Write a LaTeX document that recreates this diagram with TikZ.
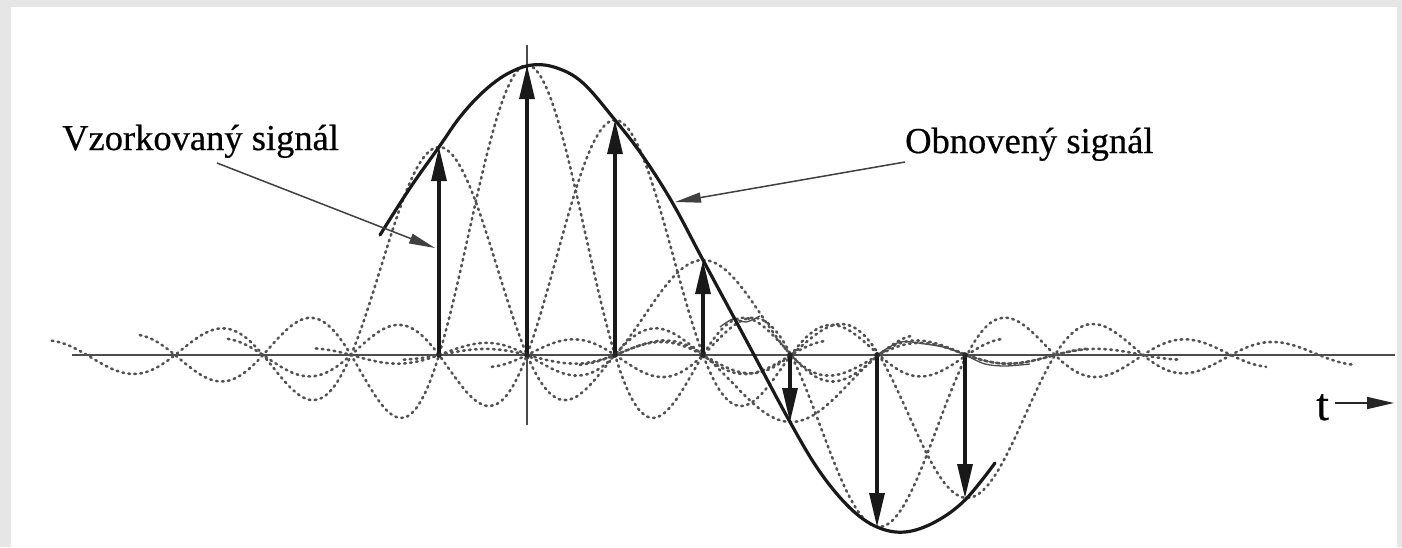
\documentclass[tikz,border=0pt]{standalone}
\usepackage{fontspec}
\setmainfont{Liberation Serif}
\newfontfamily\lblfont{Liberation Serif}[FakeBold=0.5]
\usetikzlibrary{arrows.meta}
\definecolor{framegray}{HTML}{E6E6E6}
\begin{document}
\begin{tikzpicture}[x=1pt,y=-1pt,
  axisline/.style={line width=1.8pt, black!70},
  sincline/.style={line width=2.6pt, black!68, line cap=round, dash pattern=on 1.6pt off 4.4pt},
  recon/.style={line width=3.2pt, black!90, line cap=round},
  samplearrow/.style={line width=3.2pt, black!90, -{Triangle[length=34pt,width=15pt]}},
  pointer/.style={line width=1.5pt, black!75, -{Triangle[length=26pt,width=10pt]}},
  lbl/.style={font=\lblfont\fontsize{36.5}{40}\selectfont, inner sep=0pt},
  tlbl/.style={font=\lblfont\fontsize{46}{50}\selectfont, inner sep=0pt},
  wiggle/.style={line width=1.3pt, black!70}]
\useasboundingbox (0,0) rectangle (1402,547);
\fill[framegray] (0,0) rectangle (1402,547);
\fill[white] (11,7) rectangle (1397,547);

% axes
\coordinate (axL) at (72,355);
\coordinate (axR) at (1395,355);
\coordinate (axT) at (527,45);
\coordinate (axB) at (527,425);
\draw[axisline] (axL) -- (axR);
\draw[axisline, line width=1.4pt] (axT) -- (axB);

% dotted sinc components
\foreach \c/\A in {-1/208, 0/290, 1/235, 2/95, 3/-67, 4/-172, 5/-143}{
  \draw[sincline] plot[domain=-4.4:4.4, samples=88, smooth]
    ({527+88*(\c+\x)}, {355-(\A)*sin(180*\x)/(pi*\x)});
}

% small solid wiggles
\draw[wiggle] plot[smooth] coordinates {(877,355) (900,342) (925,344) (947,348) (967,356) (985,364) (1005,366) (1030,364)};
\draw[wiggle] plot[smooth] coordinates {(720,327) (733,319) (746,322) (760,316)};

% reconstructed signal
\draw[recon] plot[smooth, tension=0.6] coordinates {
  (380,235) (410,188) (439,147) (460,117) (483,92) (507,74) (532,65) (557,68)
  (583,83) (615,120) (642,155) (672,202) (703,260) (745,338) (790,422)
  (820,472) (850,508) (877,527) (905,532) (935,522) (965,500) (995,463)};

% samples
\foreach \i/\xx/\yy in {1/439/147, 2/527/65, 3/615/120, 4/703/260, 5/790/422, 6/877/527, 7/965/498}{
  \coordinate (b\i) at (\xx,355);
  \coordinate (s\i) at (\xx,\yy);
  \draw[samplearrow] (b\i) -- (s\i);
  \fill[black!85] (b\i) circle (2.8pt);
}

% labels
\node[lbl, anchor=base west] (vz) at (62,150) {Vzorkovaný signál};
\coordinate (vzA) at (217,163);
\coordinate (vzB) at (435,248);
\draw[pointer] (vzA) -- (vzB);

\node[lbl, anchor=base west] (ob) at (905,153) {Obnovený signál};
\coordinate (obA) at (905,162);
\coordinate (obB) at (675,202);
\draw[pointer] (obA) -- (obB);

\node[tlbl, anchor=base west] (tl) at (1316,420) {t};
\coordinate (tA) at (1335,403);
\coordinate (tB) at (1394,403);
\draw[line width=1.6pt, black!85, -{Triangle[length=27pt,width=12pt]}] (tA) -- (tB);
\end{tikzpicture}
\end{document}
